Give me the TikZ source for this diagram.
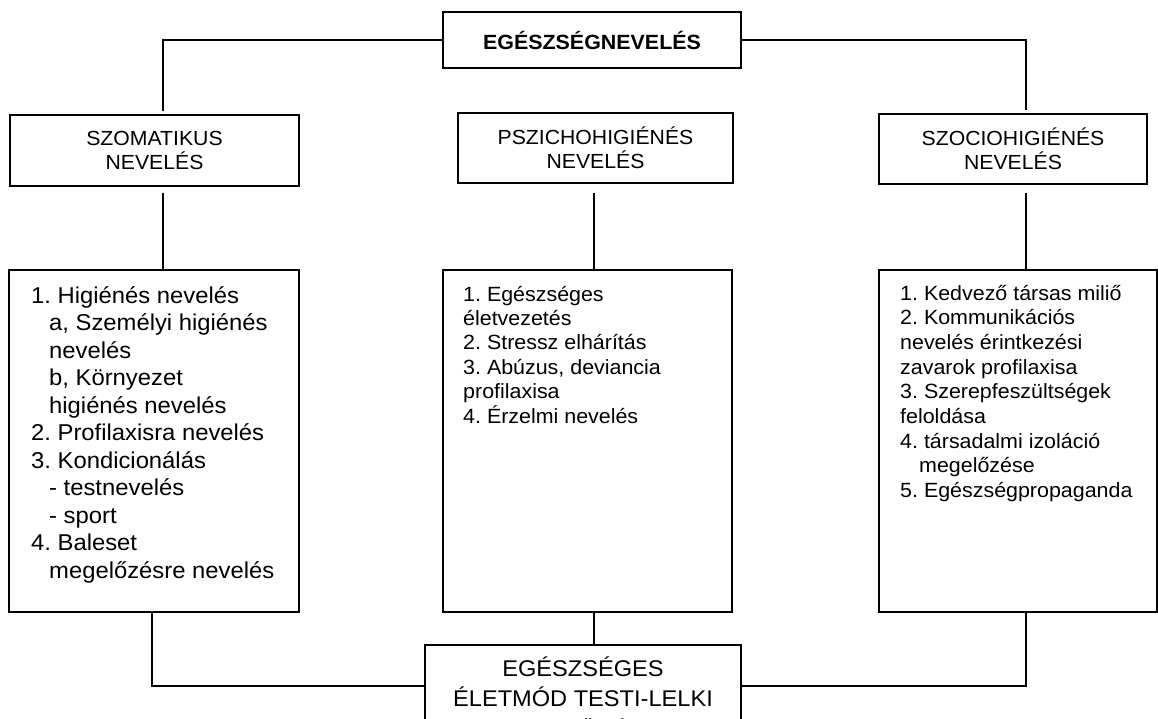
\documentclass[tikz,border=0pt]{standalone}
\usepackage{fontspec}
\setmainfont{Liberation Sans}[FakeStretch=1.04]
\frenchspacing
\begin{document}
\begin{tikzpicture}[x=1pt,y=-1pt,
  box/.style={draw, line width=1.8pt, inner sep=0pt, rectangle},
  conn/.style={line width=1.2pt},
  headfont/.style={font=\fontsize{20.4}{24.4}\selectfont, align=center},
  txt/.style={inner sep=0pt}]
\useasboundingbox (0,0) rectangle (1158,718);
\clip (0,0) rectangle (1158,718);

% top box
\node[box, minimum width=298pt, minimum height=56pt,
      font=\bfseries\fontsize{20.6}{24}\selectfont] (top) at (592,40) {EGÉSZSÉGNEVELÉS};

% header boxes
\node[box, headfont, minimum width=289pt, minimum height=71pt] (szom) at (154.5,150.5) {SZOMATIKUS\\NEVELÉS};
\node[box, headfont, minimum width=275pt, minimum height=70pt] (pszi) at (595.5,148) {PSZICHOHIGIÉNÉS\\NEVELÉS};
\node[box, headfont, minimum width=268pt, minimum height=70pt] (szoc) at (1013,149) {SZOCIOHIGIÉNÉS\\NEVELÉS};

% list boxes
\node[box, minimum width=290pt, minimum height=342pt] (lsz) at (154,441) {};
\node[box, minimum width=289pt, minimum height=342pt] (lps) at (587.5,441) {};
\node[box, minimum width=278pt, minimum height=342pt] (lsc) at (1018,441) {};

% bottom box
\node[box, minimum width=316pt, minimum height=115pt] (egm) at (583,702.5) {};

% list texts
\node[txt, anchor=base west, font=\fontsize{22.9}{27.5}\selectfont] (tsz) at (31,303)
 {\parbox[t]{400pt}{\raggedright
 1. Higiénés nevelés\\
 \hspace*{18pt}a, Személyi higiénés\\
 \hspace*{18pt}nevelés\\
 \hspace*{18pt}b, Környezet\\
 \hspace*{18pt}higiénés nevelés\\
 2. Profilaxisra nevelés\\
 3. Kondicionálás\\
 \hspace*{18pt}- testnevelés\\
 \hspace*{18pt}- sport\\
 4. Baleset\\
 \hspace*{18pt}megelőzésre nevelés}};

\node[txt, anchor=base west, font=\fontsize{20.6}{24.4}\selectfont] (tps) at (463,301)
 {\parbox[t]{400pt}{\raggedright
 1. Egészséges\\
 életvezetés\\
 2. Stressz elhárítás\\
 3. Abúzus, deviancia\\
 profilaxisa\\
 4. Érzelmi nevelés}};

\node[txt, anchor=base west, font=\fontsize{20.6}{24.7}\selectfont] (tsc) at (900,300)
 {\parbox[t]{400pt}{\raggedright
 1. Kedvező társas miliő\\
 2. Kommunikációs\\
 nevelés érintkezési\\
 zavarok profilaxisa\\
 3. Szerepfeszültségek\\
 feloldása\\
 4. társadalmi izoláció\\
 \hspace*{19pt}megelőzése\\
 5. Egészségpropaganda}};

\node[txt, anchor=base, font=\fontsize{22.7}{30}\selectfont] (tegm) at (583,676)
 {\parbox[t]{310pt}{\centering EGÉSZSÉGES\\ÉLETMÓD TESTI-LELKI\\[2pt]FEJLŐDÉS}};

% connectors top
\draw[conn, shorten >=3pt] (top.west) -| ([xshift=8.5pt]szom.north);
\draw[conn, shorten >=3pt] (top.east) -| ([xshift=13pt]szoc.north);

% header to list
\draw[conn, shorten <=6pt] ([xshift=8.5pt]szom.south) -- ([xshift=9pt]lsz.north);
\draw[conn, shorten <=9pt] ([xshift=-1.5pt]pszi.south) -- ([xshift=6.5pt]lps.north);
\draw[conn, shorten <=8pt] ([xshift=13pt]szoc.south) -- ([xshift=8pt]lsc.north);

% list to bottom
\draw[conn] ([xshift=-2pt]lsz.south) |- ([yshift=16.5pt]egm.west);
\draw[conn] ([xshift=6.5pt]lps.south) -- ([xshift=6.5pt]lps.south |- egm.north);
\draw[conn] ([xshift=8pt]lsc.south) |- ([yshift=16.5pt]egm.east);
\end{tikzpicture}
\end{document}
